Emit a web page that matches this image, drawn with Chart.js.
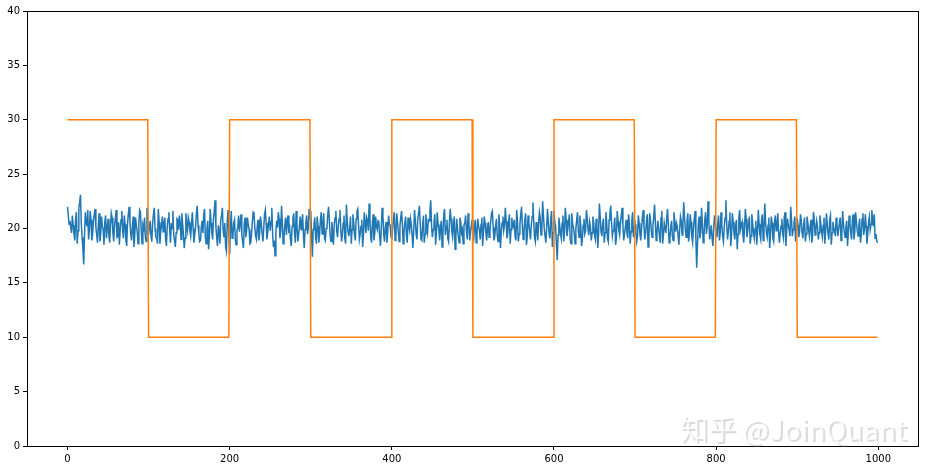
<!DOCTYPE html>
<html>
<head>
<meta charset="utf-8">
<script src="https://cdn.jsdelivr.net/npm/chart.js@4.4.0/dist/chart.umd.min.js"></script>
<style>
  html, body { margin: 0; padding: 0; background: #fff; }
  #wrap { width: 928px; height: 471px; }
</style>
</head>
<body>
<div id="wrap"><canvas id="signalChart" width="928" height="471"></canvas></div>
<script>
// square wave breakpoints
const squareX = [0, 99, 100, 199, 200, 299, 300, 399, 400, 499, 500, 599, 600, 699, 700, 799, 800, 899, 900, 999];
const squareY = [30, 30, 10, 10, 30, 30, 10, 10, 30, 30, 10, 10, 30, 30, 10, 10, 30, 30, 10, 10];

// noisy series, x = 0 .. 999
const noiseY = [
  22.0,21.1,20.4,20.7,20.1,19.6,21.2,20.3,19.5,18.9,20.8,21.5,18.6,19.8,21.9,22.4,23.1,20.5,19.2,18.1,16.7,19.4,21.5,20.6,20.2,
  21.7,19.0,19.9,21.6,20.8,18.9,19.5,20.7,21.3,21.8,20.1,19.4,18.7,20.3,21.4,18.8,19.6,21.1,20.2,19.9,18.5,20.6,21.2,19.1,20.0,
  20.9,19.4,18.7,20.3,21.4,21.0,19.6,18.8,20.2,20.9,21.7,19.2,19.3,20.6,18.5,19.9,20.8,21.6,19.8,19.1,21.2,20.4,18.9,18.4,20.4,
  21.3,22.0,20.7,19.5,18.9,20.1,21.1,18.3,19.5,21.0,20.2,19.7,18.6,20.5,21.7,21.5,19.7,18.6,20.3,20.0,21.0,19.2,18.8,21.9,20.5,
  19.4,20.1,20.7,19.3,18.8,20.5,21.3,21.9,20.0,19.2,19.1,18.6,21.8,20.6,18.6,19.7,20.3,21.1,19.7,20.4,21.0,19.0,18.4,20.2,20.9,
  21.5,19.9,18.7,20.5,20.0,21.6,19.4,18.9,18.3,19.6,20.9,20.8,19.9,21.2,20.6,19.0,21.4,20.4,19.5,18.2,19.1,21.4,20.3,19.8,21.0,
  20.6,19.8,19.3,20.4,21.5,20.0,18.7,19.5,20.2,21.4,22.1,20.3,19.5,18.8,18.9,20.1,20.7,19.6,21.3,21.8,19.2,18.6,20.0,20.7,18.1,
  19.3,21.8,20.5,19.6,19.0,20.9,21.6,22.6,20.2,19.1,18.4,20.3,19.7,18.6,20.8,21.2,21.9,19.8,19.2,20.5,18.3,17.9,20.6,21.7,19.5,
  17.6,20.2,21.6,19.1,19.4,20.5,20.8,18.9,18.5,19.8,20.1,21.2,19.7,20.6,21.3,19.4,18.8,18.2,20.4,21.0,19.2,19.9,21.0,20.3,19.9,
  18.6,18.7,19.5,20.6,21.5,21.4,20.1,19.3,19.0,20.2,20.8,18.9,19.6,21.1,20.4,19.6,18.8,20.0,21.3,21.7,20.5,19.0,19.7,20.5,21.1,
  19.8,20.6,21.9,19.5,18.3,18.9,17.5,19.7,20.7,20.1,21.5,20.9,19.1,19.8,22.1,20.4,18.6,19.2,20.3,21.0,19.4,20.7,21.2,19.6,20.0,
  19.0,18.4,20.2,20.9,21.4,19.6,18.7,21.6,20.3,18.8,19.4,20.2,21.1,19.9,20.6,21.3,19.3,18.2,19.9,20.6,21.2,19.5,20.0,21.8,20.8,
  21.6,19.5,17.4,19.9,20.4,21.0,19.2,18.6,21.1,20.2,18.7,19.6,20.8,21.5,19.5,20.3,21.4,19.1,18.9,20.0,20.1,21.3,22.0,20.6,19.3,
  18.8,20.6,19.7,18.5,20.4,21.0,21.6,19.8,19.2,20.3,20.9,21.7,20.0,18.8,19.4,20.5,21.2,19.1,18.6,22.2,20.7,19.7,19.3,20.0,21.1,
  18.6,19.9,21.3,20.5,19.4,18.9,20.9,21.6,21.8,20.3,19.0,19.5,20.2,20.8,18.3,19.4,21.5,20.6,19.6,21.0,20.7,19.8,22.3,20.9,19.2,
  18.7,20.4,21.3,18.9,19.6,21.1,20.2,19.9,20.7,20.6,19.3,18.4,20.0,21.9,21.2,19.5,18.8,20.1,20.6,18.7,19.7,21.2,20.4,20.3,19.2,
  19.1,20.0,20.8,21.5,18.9,19.3,21.4,20.6,19.7,18.8,20.2,21.0,21.6,20.4,18.6,19.6,20.5,21.1,19.3,18.7,21.0,20.2,19.8,20.9,20.4,
  19.4,18.2,19.8,21.7,20.7,19.5,19.0,20.9,21.4,22.1,20.5,19.0,18.9,20.3,21.2,18.7,19.5,21.3,20.1,19.6,20.8,20.7,21.6,22.6,20.3,
  19.2,19.9,20.6,21.3,18.5,19.6,21.5,20.4,19.9,18.9,20.1,20.7,18.3,19.5,21.2,21.8,19.4,20.2,20.8,19.1,18.8,20.5,21.8,20.9,19.7,
  19.2,20.4,21.1,18.1,19.3,20.9,20.0,19.3,18.7,21.0,20.6,19.6,19.9,18.6,20.3,20.5,21.2,19.8,19.0,21.4,20.6,18.9,19.7,20.2,20.8,
  19.5,19.1,20.3,20.8,18.7,19.4,20.9,20.2,19.9,19.0,20.4,21.0,18.4,19.7,21.1,20.5,19.6,18.9,20.0,20.6,19.2,19.8,20.7,21.4,21.6,
  20.1,18.9,19.3,20.2,20.9,19.4,18.8,21.3,20.4,18.2,19.6,20.5,21.1,19.8,20.3,21.9,20.7,19.1,19.5,20.6,21.3,18.6,19.9,21.0,20.2,
  20.1,20.8,19.3,18.9,21.7,20.6,18.8,19.5,20.4,21.3,22.0,20.2,19.0,19.7,20.8,21.4,18.5,19.2,21.2,20.5,19.7,19.0,20.3,21.1,22.4,
  20.7,19.2,18.8,20.6,19.9,18.9,20.4,21.5,21.0,19.4,19.8,22.5,21.2,20.0,19.3,18.7,20.1,21.8,20.6,19.5,19.1,20.9,21.6,18.3,19.6,
  21.6,20.6,20.2,18.5,17.1,19.4,21.0,20.3,19.6,19.1,20.5,21.2,18.8,19.7,21.9,20.8,19.3,19.9,20.7,21.3,19.0,18.6,21.4,20.4,20.1,
  19.5,18.6,20.0,20.8,21.5,19.8,19.2,21.2,20.3,18.4,19.0,20.3,20.9,19.5,19.8,21.7,21.0,19.9,19.4,20.6,20.1,18.9,19.6,21.1,20.5,
  19.4,19.0,20.9,20.2,18.2,19.5,22.3,21.1,19.7,19.3,20.4,20.9,18.7,19.6,21.5,20.6,19.1,18.8,20.8,21.4,22.1,20.5,19.3,19.8,20.2,
  21.0,18.5,19.2,21.6,20.7,19.8,19.4,20.5,21.2,21.9,20.3,18.9,19.5,20.1,20.8,19.6,19.1,21.3,20.4,18.6,19.7,20.7,21.5,19.2,20.0,
  20.4,19.7,18.8,19.3,21.2,20.5,19.5,18.9,20.0,21.0,21.7,20.2,19.0,19.6,20.6,21.3,18.3,19.1,21.4,20.8,19.8,19.2,20.3,21.0,22.2,
  20.6,18.9,19.5,20.7,20.1,19.4,18.7,21.0,21.6,18.6,19.4,20.5,20.0,19.6,20.9,21.8,20.3,18.7,19.2,20.1,20.7,19.3,18.9,21.5,20.6,
  19.7,20.5,20.2,19.4,18.5,19.9,21.1,20.7,19.4,20.3,22.4,21.0,19.9,19.2,20.6,21.4,18.8,19.5,21.3,20.6,19.2,18.7,20.0,20.9,21.6,
  19.0,16.4,18.6,20.4,21.1,19.1,19.7,21.9,20.4,18.7,19.3,20.8,21.5,19.5,20.2,22.5,20.8,19.0,19.6,20.3,19.1,18.4,20.0,21.2,20.5,
  19.8,19.2,20.5,21.2,18.9,19.6,21.5,20.3,19.3,18.8,20.1,21.0,22.6,20.5,19.0,19.7,20.7,21.5,18.4,19.4,21.4,20.6,19.6,19.0,20.2,
  20.8,18.1,19.5,21.0,21.7,19.9,20.3,20.6,19.4,18.7,20.0,21.8,20.9,19.2,19.8,20.4,21.1,18.6,19.3,21.3,20.5,19.7,19.1,20.0,20.7,
  18.5,19.6,21.7,20.4,19.4,19.0,20.8,21.3,18.9,19.8,22.3,20.6,19.6,19.2,20.3,21.0,18.2,19.4,21.1,20.5,19.1,18.8,20.6,21.2,19.8,
  20.2,21.4,19.7,18.7,19.5,20.2,20.9,19.5,19.1,21.0,21.5,18.4,19.8,20.9,20.3,19.9,19.3,22.0,20.7,19.3,19.9,20.5,21.1,18.8,19.6,
  20.9,20.3,19.2,19.8,21.3,20.7,19.6,19.1,20.4,21.0,18.8,19.5,21.1,20.6,19.9,19.3,20.2,20.8,18.7,19.4,21.5,20.9,19.4,19.9,20.7,
  20.2,19.0,19.6,21.2,20.5,19.7,19.2,20.3,21.0,18.6,19.7,21.4,20.4,19.5,19.0,20.8,21.2,18.5,19.6,20.6,20.1,19.8,19.3,21.0,20.4,
  19.3,19.9,20.5,21.0,18.9,19.5,21.6,20.4,19.7,19.2,20.1,20.7,18.4,19.6,21.2,20.5,19.6,19.0,20.8,21.3,19.0,19.7,21.5,20.6,19.8,
  19.3,20.3,20.9,18.7,19.4,20.9,21.4,19.4,20.0,21.3,20.2,18.6,19.5,20.6,21.1,19.9,20.4,21.7,20.8,20.2,21.3,19.1,19.5,18.9,18.7
];

const xTicks = [0, 200, 400, 600, 800, 1000];
const yTicks = [0, 5, 10, 15, 20, 25, 30, 35, 40];
const watermark = '知乎 @JoinQuant';

const noisePoints = noiseY.map((v, i) => ({ x: i, y: v }));
const squarePoints = squareX.map((x, i) => ({ x: x, y: squareY[i] }));

// full box around the plot plus the watermark
const frameAndMark = {
  id: 'frameAndMark',
  afterDraw(chart) {
    const c = chart.ctx;
    const a = chart.chartArea;
    c.save();
    c.strokeStyle = '#000';
    c.lineWidth = 1;
    c.strokeRect(Math.round(a.left) + 0.5, Math.round(a.top) + 0.5,
      Math.round(a.right - a.left), Math.round(a.bottom - a.top));
    c.font = '28px "Noto Sans CJK SC", sans-serif';
    c.textBaseline = 'alphabetic';
    c.textAlign = 'left';
    c.fillStyle = 'rgba(150,150,150,0.35)';
    c.fillText(watermark, 682, 442);
    c.fillStyle = 'rgba(255,255,255,0.75)';
    c.fillText(watermark, 680, 440);
    c.restore();
  }
};

const ctx = document.getElementById('signalChart').getContext('2d');
new Chart(ctx, {
  type: 'line',
  data: {
    datasets: [
      {
        data: noisePoints,
        borderColor: '#1f77b4',
        borderWidth: 1.5,
        pointRadius: 0,
        tension: 0,
        order: 1
      },
      {
        data: squarePoints,
        borderColor: '#ff7f0e',
        borderWidth: 1.5,
        pointRadius: 0,
        tension: 0,
        order: 0
      }
    ]
  },
  options: {
    responsive: false,
    animation: false,
    devicePixelRatio: 1,
    layout: { padding: { left: 0, top: 11, right: 10, bottom: 0 } },
    plugins: { legend: { display: false }, tooltip: { enabled: false } },
    scales: {
      x: {
        type: 'linear',
        min: -49.95,
        max: 1048.95,
        afterBuildTicks: s => { s.ticks = xTicks.map(v => ({ value: v })); },
        afterFit: s => { s.height = 25; },
        grid: { drawOnChartArea: false, drawTicks: true, tickLength: 4, color: '#000' },
        border: { color: '#000' },
        ticks: {
          color: '#000', font: { size: 10, family: '"DejaVu Sans", sans-serif' }, padding: 3, maxRotation: 0,
          callback: v => String(v)
        }
      },
      y: {
        min: 0,
        max: 40,
        afterBuildTicks: s => { s.ticks = yTicks.map(v => ({ value: v })); },
        afterFit: s => { s.width = 27; },
        grid: { drawOnChartArea: false, drawTicks: true, tickLength: 4, color: '#000' },
        border: { color: '#000' },
        ticks: { color: '#000', font: { size: 10, family: '"DejaVu Sans", sans-serif' }, padding: 3 }
      }
    }
  },
  plugins: [frameAndMark]
});
</script>
</body>
</html>
